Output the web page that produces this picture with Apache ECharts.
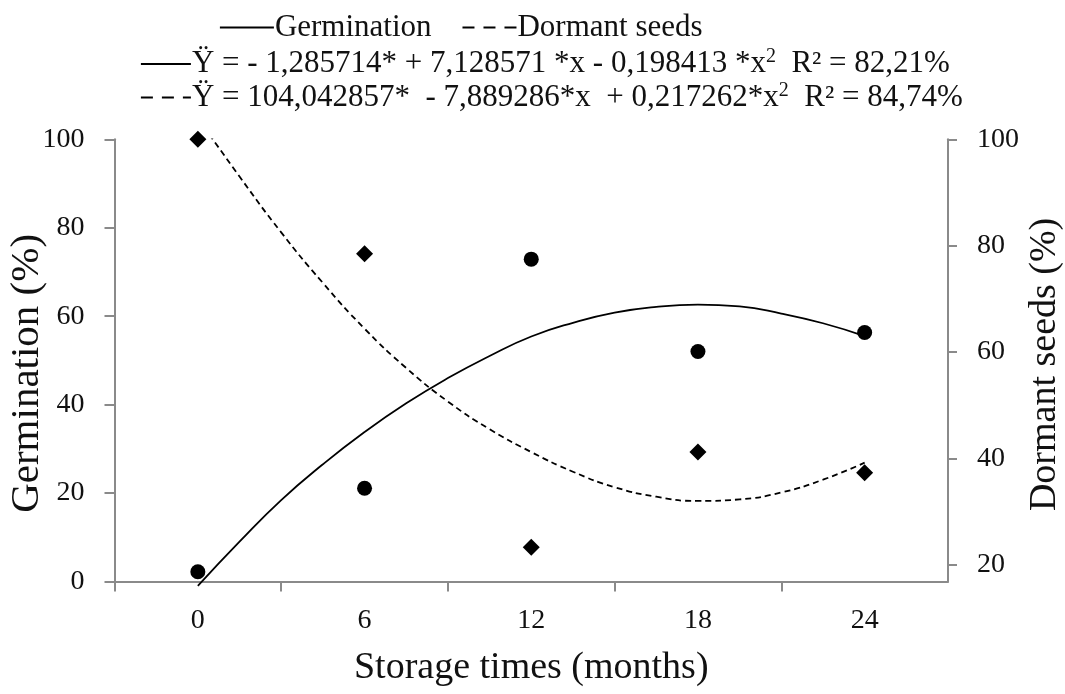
<!DOCTYPE html>
<html>
<head>
<meta charset="utf-8">
<script src="https://cdn.jsdelivr.net/npm/echarts@6/dist/echarts.min.js"></script>
<style>
html,body{margin:0;padding:0;background:#fff;}
#chart{width:1065px;height:694px;}
</style>
</head>
<body>
<div id="chart"></div>
<script>
// ---- data ----
var months = [0, 6, 12, 18, 24];
var germinationObs = [2.2, 21.1, 72.9, 52.0, 56.3];     // left axis (%)
var dormantObs = [100, 78.5, 23.3, 41.2, 37.3];          // right axis (%)
var trendMonths = [0, 1.5, 3, 4.5, 6, 7.5, 9, 10.5, 12, 13.5, 15, 16.5, 18, 19.5, 21, 22.5, 24];
var germinationTrend = [-1.0, 9.0, 18.4, 26.5, 33.8, 40.3, 46.0, 51.0, 55.4, 58.5, 60.8, 62.1, 62.6, 62.2, 60.6, 58.4, 55.5];
var dormantTrend = [104.0, 93.0, 82.5, 73.0, 64.4, 57.0, 50.7, 45.5, 41.2, 37.5, 34.6, 32.8, 32.0, 32.3, 33.6, 36.0, 39.2];
var xLabelValues = [0, 6, 12, 18, 24];
var xTickValues = [-3, 3, 9, 15, 21];
var rightTickValues = [20, 40, 60, 80, 100];
var seriesNames = ['Germination', 'Dormant seeds'];
var equations = {
  'Germination': ['Ÿ = - 1,285714* + 7,128571 *x - 0,198413 *x', '  R² = 82,21%'],
  'Dormant seeds': ['Ÿ = 104,042857*  - 7,889286*x  + 0,217262*x', '  R² = 84,74%']
};

function pairs(xs, ys) { return xs.map(function (x, i) { return [x, ys[i]]; }); }

var FONT = "'Liberation Serif', 'Times New Roman', serif";
var AXIS_COLOR = '#8a8a8a';
var NO_SYMBOL = {color: 'rgba(0,0,0,0)', borderColor: 'rgba(0,0,0,0)', borderWidth: 0, opacity: 0};

function legendItems() {
  return [
    {name: seriesNames[0], lineStyle: {type: 'solid', width: 1.8, color: '#000'}},
    {name: seriesNames[1], lineStyle: {type: [12, 9], width: 1.8, color: '#000'}}
  ];
}

var chart = echarts.init(document.getElementById('chart'), null, {renderer: 'canvas'});
chart.setOption({
  animation: false,
  backgroundColor: '#ffffff',
  textStyle: {fontFamily: FONT, color: '#111'},
  grid: {left: 114.5, right: 117, top: 139.3, bottom: 112.5, containLabel: false, outerBoundsMode: 'none'},
  legend: [{
    data: legendItems(),
    orient: 'horizontal',
    left: 214, top: 7,
    itemWidth: 54, itemHeight: 14, itemGap: 30,
    itemStyle: NO_SYMBOL,
    textStyle: {fontFamily: FONT, fontSize: 31, color: '#111', padding: [0, 0, 0, -4]},
    selectedMode: false
  }, {
    data: legendItems(),
    orient: 'vertical',
    left: 135, top: 42,
    itemWidth: 50, itemHeight: 14, itemGap: 1,
    itemStyle: NO_SYMBOL,
    selectedMode: false,
    formatter: function (name) {
      var e = equations[name];
      return '{n|' + e[0] + '}{s|2}{n|' + e[1] + '}';
    },
    textStyle: {
      fontFamily: FONT, fontSize: 31, color: '#111', padding: [0, 0, 0, -4],
      rich: {
        n: {fontFamily: FONT, fontSize: 31, color: '#111'},
        s: {fontFamily: FONT, fontSize: 20, color: '#111', padding: [0, 0, 14, 0]}
      }
    }
  }],
  xAxis: {
    type: 'value',
    min: -3, max: 27,
    name: 'Storage times (months)',
    nameLocation: 'middle',
    nameGap: 68,
    nameMoveOverlap: false,
    nameTextStyle: {fontFamily: FONT, fontSize: 38, color: '#111'},
    axisLine: {show: true, onZero: false, lineStyle: {color: AXIS_COLOR, width: 2}},
    axisTick: {show: true, length: 10, customValues: xTickValues, lineStyle: {color: AXIS_COLOR, width: 2}},
    axisLabel: {customValues: xLabelValues, fontFamily: FONT, fontSize: 28, color: '#111', margin: 25},
    splitLine: {show: false}
  },
  yAxis: [{
    type: 'value',
    min: 0, max: 100, interval: 20,
    position: 'left',
    name: 'Germination (%)',
    nameLocation: 'middle',
    nameRotate: 90,
    nameGap: 67,
    nameMoveOverlap: false,
    nameTextStyle: {fontFamily: FONT, fontSize: 41, color: '#111', padding: [0, 26, 0, 0]},
    axisLine: {show: true, onZero: false, lineStyle: {color: AXIS_COLOR, width: 2}},
    axisTick: {show: true, length: 10, lineStyle: {color: AXIS_COLOR, width: 2}},
    axisLabel: {fontFamily: FONT, fontSize: 28, color: '#111', margin: 30},
    splitLine: {show: false}
  }, {
    type: 'value',
    min: 16.86, max: 100,
    position: 'right',
    name: 'Dormant seeds (%)',
    nameLocation: 'middle',
    nameRotate: 90,
    nameGap: 78,
    nameMoveOverlap: false,
    nameTextStyle: {fontFamily: FONT, fontSize: 38, color: '#111', padding: [0, 8, 0, 0]},
    axisLine: {show: true, onZero: false, lineStyle: {color: AXIS_COLOR, width: 2}},
    axisTick: {show: true, length: 9, customValues: rightTickValues, lineStyle: {color: AXIS_COLOR, width: 2}},
    axisLabel: {customValues: rightTickValues, fontFamily: FONT, fontSize: 28, color: '#111', margin: 29},
    splitLine: {show: false}
  }],
  series: [{
    name: 'Germination',
    type: 'line',
    yAxisIndex: 0,
    data: pairs(trendMonths, germinationTrend),
    smooth: true,
    symbol: 'none',
    clip: false,
    lineStyle: {color: '#000', width: 1.8, type: 'solid'},
    itemStyle: {color: '#000'},
    z: 2
  }, {
    name: 'Dormant seeds',
    type: 'line',
    yAxisIndex: 1,
    data: pairs(trendMonths, dormantTrend),
    smooth: true,
    symbol: 'none',
    clip: true,
    lineStyle: {color: '#000', width: 1.8, type: [6, 4]},
    itemStyle: {color: '#000'},
    z: 2
  }, {
    name: 'Germination observed',
    type: 'scatter',
    yAxisIndex: 0,
    data: pairs(months, germinationObs),
    symbol: 'circle',
    symbolSize: 15,
    itemStyle: {color: '#000', opacity: 1},
    z: 3
  }, {
    name: 'Dormant seeds observed',
    type: 'scatter',
    yAxisIndex: 1,
    data: pairs(months, dormantObs),
    symbol: 'diamond',
    symbolSize: 17,
    itemStyle: {color: '#000', opacity: 1},
    z: 3
  }]
});
</script>
</body>
</html>
